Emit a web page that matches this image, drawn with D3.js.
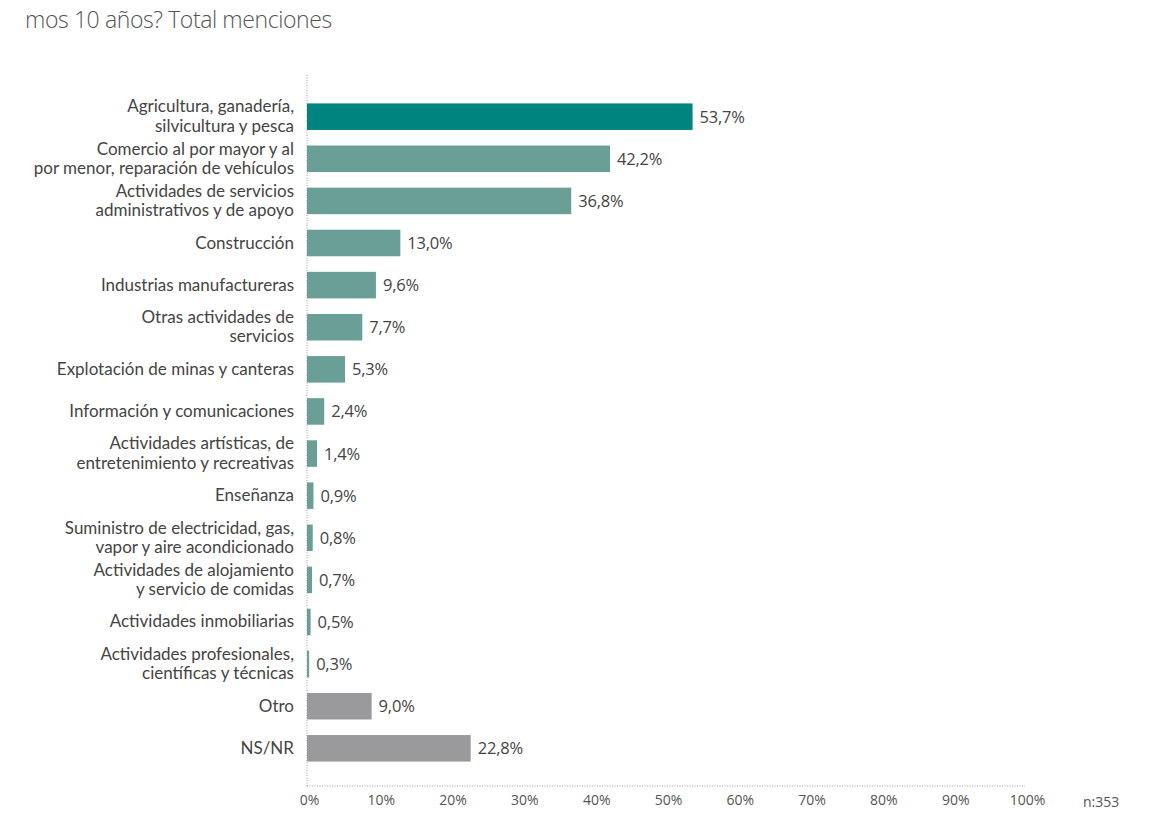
<!DOCTYPE html>
<html><head><meta charset="utf-8">
<script src="https://cdn.jsdelivr.net/npm/d3@7"></script>
<style>body{margin:0;background:#fff;} text{font-family:"Open Sans","Noto Sans",sans-serif;}</style>
</head><body>
<svg id="chart" width="1150" height="815"></svg>
<script>
const categories = [
  ["Agricultura, ganadería,", "silvicultura y pesca"],
  ["Comercio al por mayor y al", "por menor, reparación de vehículos"],
  ["Actividades de servicios", "administrativos y de apoyo"],
  ["Construcción"],
  ["Industrias manufactureras"],
  ["Otras actividades de", "servicios"],
  ["Explotación de minas y canteras"],
  ["Información y comunicaciones"],
  ["Actividades artísticas, de", "entretenimiento y recreativas"],
  ["Enseñanza"],
  ["Suministro de electricidad, gas,", "vapor y aire acondicionado"],
  ["Actividades de alojamiento", "y servicio de comidas"],
  ["Actividades inmobiliarias"],
  ["Actividades profesionales,", "científicas y técnicas"],
  ["Otro"],
  ["NS/NR"]
];
const values = [53.7, 42.2, 36.8, 13.0, 9.6, 7.7, 5.3, 2.4, 1.4, 0.9, 0.8, 0.7, 0.5, 0.3, 9.0, 22.8];
const groups = ["top","sector","sector","sector","sector","sector","sector","sector","sector","sector","sector","sector","sector","sector","other","other"];
const tickValues = [0,10,20,30,40,50,60,70,80,90,100];
const title = "mos 10 años? Total menciones";
const note = "n:353";

const colors = {top:"#00847f", sector:"#6a9f98", other:"#9a9a9d"};
const svg = d3.select("#chart");
const x = d3.scaleLinear().domain([0,100]).range([307,1025]);
const y = d3.scaleBand().domain(d3.range(values.length)).range([95,770]).paddingInner(0.37).paddingOuter(0.2);

svg.append("text").attr("x",25).attr("y",28).attr("font-size",23).attr("font-weight",300)
  .attr("fill","#555").attr("letter-spacing","-0.4").text(title);

// axes
svg.append("line").attr("x1",x(0)).attr("x2",x(0)).attr("y1",75).attr("y2",786)
  .attr("stroke","#999").attr("stroke-dasharray","1,1.5");
svg.append("line").attr("x1",x(0)).attr("x2",x(100)).attr("y1",786).attr("y2",786)
  .attr("stroke","#999").attr("stroke-dasharray","1,1.5");

const ax = svg.append("g").attr("transform","translate(0,786)")
  .call(d3.axisBottom(x).tickValues(tickValues).tickSize(0).tickPadding(9).tickFormat(d=>d+"%"));
ax.select(".domain").remove();
ax.selectAll("text").attr("font-size",14).attr("fill","#555").attr("dx",2);

svg.append("text").attr("x",1083).attr("y",807).attr("font-size",14).attr("fill","#555").text(note);

// bars
const rows = svg.selectAll("g.row").data(values).join("g").attr("class","row");
rows.append("rect").attr("x",x(0)).attr("y",(d,i)=>y(i)).attr("height",y.bandwidth())
  .attr("width",d=>x(d)-x(0)).attr("fill",(d,i)=>colors[groups[i]]);
rows.append("text").attr("x",d=>x(d)+7).attr("y",(d,i)=>y(i)+y.bandwidth()/2+6)
  .attr("font-size",16.5).attr("fill","#444").attr("letter-spacing","-0.2")
  .text(d=>d.toFixed(1).replace(".",",")+"%");

rows.each(function(d,i){
  const lines = categories[i];
  const cy = y(i)+y.bandwidth()/2;
  const lh = 19.5;
  lines.forEach((l,k)=>{
    d3.select(this).append("text").attr("text-anchor","end").attr("font-size",17)
      .style("font-family","Lato, 'Open Sans', sans-serif")
      .attr("fill","#444").attr("x",294)
      .attr("y",cy+5.5+(k-(lines.length-1)/2)*lh).text(l);
  });
});
</script>
</body></html>
